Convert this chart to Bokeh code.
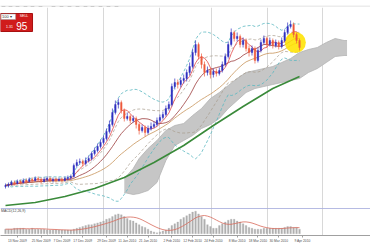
import numpy as np
import pandas as pd
from bokeh.plotting import figure
from bokeh.layouts import column
from bokeh.models import ColumnDataSource, Range1d, FixedTicker, Span, Label
from bokeh.embed import file_html
from bokeh.resources import INLINE

# ---------------- data ----------------
close = [23, 24, 26, 25, 27, 26, 28, 27, 29, 28, 30, 29, 27, 29, 30, 28, 29, 28, 29, 28,
         30, 31, 32, 43, 46, 47, 45, 48, 50, 55, 58, 62, 66, 70, 77, 84, 96, 104, 106, 98,
         90, 92, 88, 90, 84, 78, 81, 76, 80, 82, 84, 88, 91, 94, 100, 104, 122, 126, 124, 128,
         130, 136, 142, 156, 164, 152, 144, 136, 138, 134, 137, 135, 138, 144, 152, 164, 176, 170, 172, 164,
         168, 160, 156, 160, 148, 158, 166, 170, 164, 168, 163, 166, 162, 168, 176, 182, 184, 174, 168, 161]
high = [25, 26, 28, 28, 29, 29, 30, 30, 31, 31, 32, 32, 31, 31, 32, 32, 31, 31, 31, 31,
        32, 33, 34, 45, 49, 50, 49, 51, 53, 57, 61, 65, 69, 73, 80, 88, 100, 108, 110, 108,
        100, 96, 94, 93, 92, 86, 84, 83, 83, 86, 87, 91, 94, 97, 103, 107, 125, 130, 129, 131,
        134, 139, 146, 160, 168, 166, 155, 147, 142, 141, 140, 140, 141, 147, 155, 167, 180, 178, 176, 174,
        171, 170, 163, 163, 162, 161, 169, 173, 172, 171, 170, 169, 168, 171, 179, 186, 188, 186, 176, 170]
low = [20, 21, 23, 23, 24, 24, 25, 25, 26, 26, 27, 27, 25, 26, 27, 26, 26, 26, 27, 26,
       27, 28, 29, 31, 41, 44, 42, 43, 46, 48, 53, 56, 60, 64, 68, 75, 82, 94, 100, 95,
       87, 88, 85, 86, 80, 74, 76, 72, 74, 78, 80, 82, 86, 89, 92, 98, 102, 119, 120, 121,
       125, 127, 133, 140, 153, 149, 140, 132, 133, 130, 131, 132, 133, 136, 142, 150, 162, 167, 167, 161,
       161, 157, 152, 153, 145, 146, 156, 164, 161, 162, 160, 161, 159, 160, 166, 174, 180, 171, 165, 158]
first_open = 22

# long moving average (green), sampled every 10 bars
green_idx = [0, 10, 20, 30, 40, 50, 60, 70, 80, 90, 99]
green_val = [3, 6, 12, 20, 31, 46, 63, 83, 102, 120, 132]

# Ichimoku cloud edges (projected forward)
cloud_idx = [40, 43, 45, 48, 51, 54, 57, 60, 63, 66, 69, 72, 75, 78, 81, 84, 87, 90, 93, 96,
             99, 102, 105, 108, 111, 114, 115]
cloud_top = [30, 40, 50, 60, 68, 78, 83, 85, 93, 100, 110, 116, 123, 130, 136, 138, 140, 142, 146, 150,
             156, 159, 161, 166, 170, 168, 168]
cloud_bot = [16, 14, 15, 18, 26, 48, 63, 68, 73, 80, 84, 90, 100, 108, 116, 120, 122, 124, 126, 128,
             130, 136, 140, 146, 152, 153, 153]

# MACD main line (histogram)
macd = [5, 5, 5, 6, 6, 6, 6, 5, 5, 6, 5, 5, 5, 5, 4, 4, 4, 4, 4, 4,
        4, 4, 4, 5, 6, 7, 8, 9, 10, 10, 11, 12, 13, 14, 16, 17, 19, 21, 22, 21,
        19, 17, 15, 14, 12, 10, 8, 7, 5, 3, 2, 1, 2, 3, 4, 6, 9, 11, 13, 16,
        18, 20, 22, 24, 25, 22, 19, 16, 10, 8, 6, 6, 9, 11, 13, 15, 16, 16, 14, 13,
        11, 9, 7, 6, 5, 5, 5, 6, 6, 6, 6, 6, 6, 6, 7, 8, 8, 7, 7, 5]

tick_pos = [4, 12, 19, 26, 34, 41, 48, 56, 63, 70, 78, 85, 92, 100]
tick_labels = ["13 Nov 2009", "25 Nov 2009", "7 Dec 2009", "17 Dec 2009", "29 Dec 2009",
               "11 Jan 2010", "21 Jan 2010", "2 Feb 2010", "12 Feb 2010", "24 Feb 2010",
               "8 Mar 2010", "18 Mar 2010", "30 Mar 2010", "9 Apr 2010"]

# ---------------- derived ----------------
n = len(close)
idx = np.arange(n)
opn = [first_open] + close[:-1]
s = pd.Series(close, dtype=float)
ma5 = s.rolling(5, min_periods=1).mean()
ma13 = s.rolling(13, min_periods=1).mean()
ma26 = s.rolling(26, min_periods=1).mean()
m20 = s.rolling(20, min_periods=1).mean()
sd20 = s.rolling(20, min_periods=1).std(ddof=0).fillna(0)
bb_up2 = m20 + 2.2 * sd20
bb_lo2 = m20 - 2.2 * sd20
bb_up1 = m20 + 1.2 * sd20
bb_lo1 = m20 - 1.2 * sd20
signal = pd.Series(macd, dtype=float).rolling(9, min_periods=1).mean()

up = [c >= o for o, c in zip(opn, close)]
src = ColumnDataSource(dict(
    x=idx, o=opn, c=close, h=high, l=low,
    top=[max(o, c) for o, c in zip(opn, close)],
    bot=[min(o, c) for o, c in zip(opn, close)],
    col=["#3030c0" if u else "#ee5a3c" for u in up],
))

W = 370
XL, XR = -1.684, 122.9
GRID = [14, 33, 52, 69.4, 88.2, 106.7]

# ---------------- toolbar strip ----------------
tb = figure(width=W, height=7, x_range=Range1d(0, W), y_range=Range1d(0, 7),
            toolbar_location=None, output_backend="svg", min_border=0)
tb.axis.visible = False
tb.grid.visible = False
tb.outline_line_color = None
tb.background_fill_color = "#ececec"
tb.border_fill_color = "#ececec"
icon_x = [3, 10, 17, 25, 32, 40, 53, 61, 69, 77, 85, 92, 100, 108, 116]
tb.scatter(icon_x, [3.8] * len(icon_x), marker="square", size=3.5, fill_color="#c4c4c4",
           line_color="#8c8c8c", line_width=0.6)
tb.segment(x0=[0], y0=[0.3], x1=[W], y1=[0.3], line_color="#c0c0c0", line_width=1)

# ---------------- main chart ----------------
p = figure(width=W, height=201, x_range=Range1d(XL, XR), y_range=Range1d(0, 201),
           toolbar_location=None, output_backend="svg", min_border=0)
p.axis.visible = False
p.ygrid.visible = False
p.xgrid.ticker = FixedTicker(ticks=GRID)
p.xgrid.grid_line_color = "#d8d8d8"
p.xgrid.grid_line_width = 1
p.outline_line_color = None
p.background_fill_color = "white"

p.varea(x=cloud_idx, y1=cloud_bot, y2=cloud_top, fill_color="#c6c6c6", fill_alpha=1)
p.line(cloud_idx, cloud_top, line_color="#b4b4b4", line_width=0.8)
p.line(cloud_idx, cloud_bot, line_color="#b4b4b4", line_width=0.8)

p.line(idx, bb_up2, line_color="#5ab8c0", line_width=0.8, line_dash="3 2")
p.line(idx, bb_lo2, line_color="#5ab8c0", line_width=0.8, line_dash="3 2")
p.line(idx, bb_up1, line_color="#a89c8c", line_width=0.7, line_dash="3 2")
p.line(idx, bb_lo1, line_color="#a89c8c", line_width=0.7, line_dash="3 2")
p.line(idx, ma26, line_color="#c8945a", line_width=0.8)
p.line(idx, ma13, line_color="#9c3c3c", line_width=0.8)
p.line(idx, ma5, line_color="#e24a4a", line_width=0.8)
p.line(green_idx, green_val, line_color="#3a8a3a", line_width=1.6)

p.scatter([97.6], [166], size=21, marker="circle", fill_color="#ffe200", fill_alpha=0.88,
          line_color=None)

p.segment(x0="x", y0="l", x1="x", y1="h", color="col", line_width=0.7, source=src)
p.vbar(x="x", top="top", bottom="bot", width=0.5, fill_color="col", line_color="col",
       line_width=0.4, source=src)

# one-click trading panel
p.quad(left=[XL], right=[9.1], top=[195], bottom=[177], fill_color="#d01c1c", line_color="#a81010")
p.quad(left=[XL + 0.2], right=[3.4], top=[194.5], bottom=[189], fill_color="white", line_color="#999999",
       line_width=0.5)
p.add_layout(Label(x=-1.2, y=189.6, text="100 ▾", text_font_size="4px", text_color="#333333"))
p.add_layout(Label(x=4.8, y=190.3, text="SELL", text_font_size="3.5px", text_color="white"))
p.add_layout(Label(x=0.2, y=180.5, text="1.31", text_font_size="3.5px", text_color="white"))
p.add_layout(Label(x=3.6, y=178.2, text="95", text_font_size="10px", text_color="white"))

# ---------------- MACD window ----------------
q = figure(width=W, height=37, x_range=Range1d(XL, XR), y_range=Range1d(-2, 28),
           toolbar_location=None, output_backend="svg", min_border=0)
q.yaxis.visible = False
q.ygrid.visible = False
q.xgrid.ticker = FixedTicker(ticks=GRID)
q.xgrid.grid_line_color = "#d8d8d8"
q.outline_line_color = None
q.vbar(x=idx, top=macd, bottom=0, width=0.55, fill_color="#b0b0b0", line_color="#b0b0b0", line_width=0.3)
q.line(idx, signal, line_color="#d86a5a", line_width=0.8)
q.add_layout(Span(location=28, dimension="width", line_color="#6f78c8", line_width=1.2))
q.add_layout(Label(x=-1.5, y=22.5, text="MACD(12,26,9)", text_font_size="3.5px", text_color="#444444"))

ax = q.xaxis[0]
ax.ticker = FixedTicker(ticks=tick_pos)
ax.major_label_overrides = {t: l for t, l in zip(tick_pos, tick_labels)}
ax.major_label_text_font_size = "3.3px"
ax.major_label_text_color = "#505050"
ax.major_label_standoff = 1
ax.major_tick_out = 2
ax.major_tick_in = 0
ax.minor_tick_out = 0
ax.minor_tick_in = 0
ax.axis_line_color = "#a0a0a0"
ax.major_tick_line_color = "#a0a0a0"

layout = column(tb, p, q, spacing=0)
open("out.html", "w").write(file_html(layout, INLINE))
